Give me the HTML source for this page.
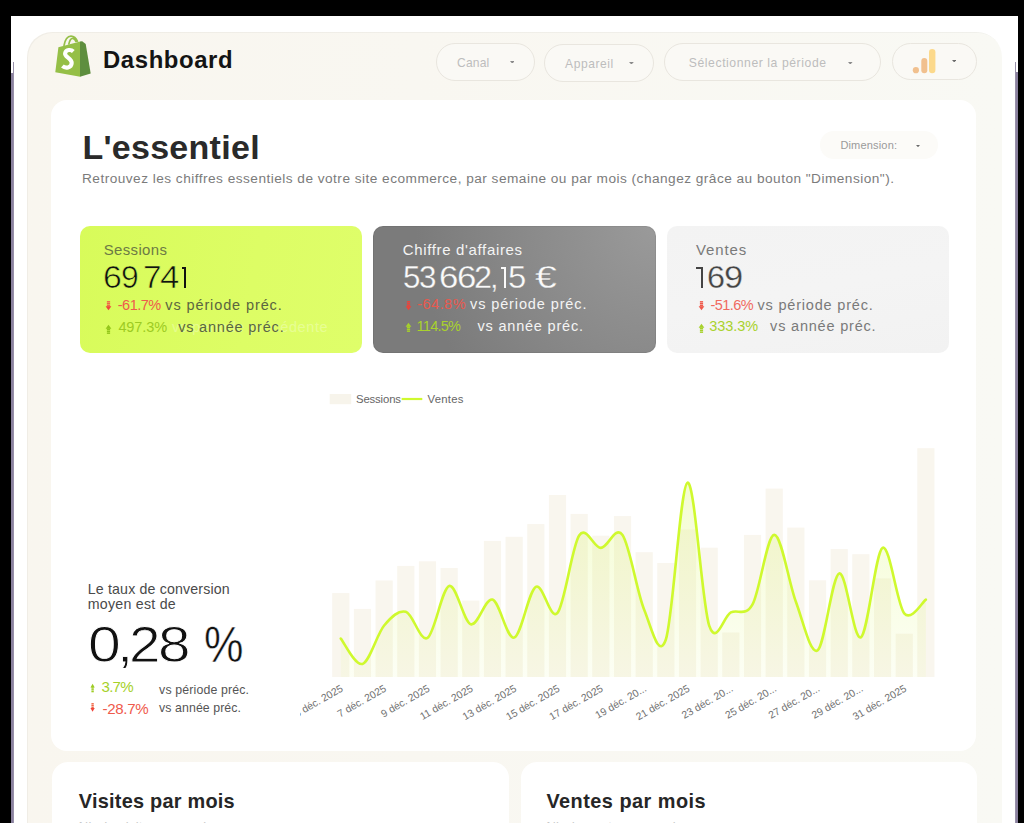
<!DOCTYPE html>
<html><head><meta charset="utf-8"><style>
*{box-sizing:border-box}
html,body{margin:0;padding:0}
body{width:1024px;height:823px;overflow:hidden;background:#000;position:relative;font-family:"Liberation Sans",sans-serif}
.abs{position:absolute}
.t{position:absolute;white-space:nowrap;line-height:1}
.pill{position:absolute;border:1px solid #e9e6df;border-radius:20px;background:#faf9f5}
</style></head><body>
<div class="abs" style="left:11px;top:16px;width:1007px;height:807px;background:#fff"></div>
<div class="abs" style="left:11px;top:73px;width:2px;height:750px;background:#8a819e"></div>
<div class="abs" style="left:13px;top:62px;width:1px;height:761px;background:#9890aa"></div>
<div class="abs" style="left:1015px;top:62px;width:1px;height:761px;background:#9890aa"></div><div class="abs" style="left:1016px;top:72px;width:2px;height:751px;background:#8a819e"></div>
<div class="abs" style="left:27px;top:32px;width:975px;height:820px;background:linear-gradient(90deg,#f9f6ef 0%,#f9f7f1 40%,#f9f9f4 100%);border-radius:25px;box-shadow:inset 1px 1px 0 rgba(0,0,0,0.035)"></div>
<div class="abs" style="left:51px;top:99.5px;width:925px;height:651px;background:#fff;border-radius:16px"></div>
<div class="abs" style="left:52px;top:762px;width:457px;height:120px;background:#fff;border-radius:16px"></div>
<div class="abs" style="left:520.5px;top:762px;width:456px;height:120px;background:#fff;border-radius:16px"></div>
<svg class="abs" style="left:52px;top:33px" width="42" height="46" viewBox="0 0 42 46">
<path d="M6.4,14.3 L28.2,8.6 L28.2,43.7 L3.3,39.2 Z" fill="#95bf47"/>
<path d="M28,8.6 L30.2,8.3 L33.7,10.9 L38.7,40.4 L28,43.7 Z" fill="#5e8e3e"/>
<path d="M11.9,13 C13,6.5 16,3.1 19,3.1 C22,3.1 24.2,5.2 25.7,8.8 M16.7,11.6 C17.5,7.4 19.1,5.1 20.9,5.3 C22.5,5.5 23.6,7.2 24.2,9" stroke="#95bf47" stroke-width="1.7" fill="none"/>
<path d="M21.3,18.4 C19.2,16.4 13.9,16.2 13.1,20.3 C12.4,24 19.9,25.1 19.7,29.9 C19.5,35.2 13.3,35.6 10.4,33" stroke="#fff" stroke-width="4.1" fill="none"/>
</svg>
<div class="t" style="left:103.00px;top:47.77px;font-size:23.90px;color:#141414;font-weight:700;letter-spacing:0.600px;">Dashboard</div>
<div class="pill" style="left:436px;top:43px;width:99px;height:38px"></div><div class="pill" style="left:544px;top:43.5px;width:110px;height:38.5px"></div><div class="pill" style="left:664px;top:43px;width:217px;height:38px"></div><div class="pill" style="left:891.5px;top:42.5px;width:85.5px;height:37px"></div><div class="t" style="left:457.10px;top:56.99px;font-size:12.06px;color:#bdbdbd;letter-spacing:0.180px;">Canal</div>
<div class="t" style="left:565.10px;top:57.79px;font-size:12.06px;color:#bdbdbd;letter-spacing:0.570px;">Appareil</div>
<div class="t" style="left:688.80px;top:57.07px;font-size:12.20px;color:#bdbdbd;letter-spacing:0.570px;">Sélectionner la période</div>
<svg class="abs" style="left:509.8px;top:60.7px" width="4.6" height="2.8" viewBox="0 0 4.6 2.8"><path d="M0,0 L4.6,0 L2.3,2.8 Z" fill="#8a8a8a"/></svg><svg class="abs" style="left:629px;top:61.5px" width="4.8" height="2.6" viewBox="0 0 4.8 2.6"><path d="M0,0 L4.8,0 L2.4,2.6 Z" fill="#8a8a8a"/></svg><svg class="abs" style="left:848.3px;top:61.6px" width="4.6" height="2.6" viewBox="0 0 4.6 2.6"><path d="M0,0 L4.6,0 L2.3,2.6 Z" fill="#8a8a8a"/></svg><svg class="abs" style="left:952px;top:60px" width="4.4" height="2.4" viewBox="0 0 4.4 2.4"><path d="M0,0 L4.4,0 L2.2,2.4 Z" fill="#6a6a6a"/></svg><svg class="abs" style="left:910px;top:48px" width="28" height="27" viewBox="0 0 28 27">
<circle cx="5.9" cy="22.2" r="3.1" fill="#f1c08e"/>
<rect x="11.3" y="10" width="6" height="15.2" rx="3" fill="#f1c08e"/>
<rect x="19" y="1.1" width="6.4" height="24.1" rx="3.2" fill="#fcd98b"/>
</svg><div class="t" style="left:82.40px;top:129.82px;font-size:34.00px;color:#2a2a2a;font-weight:700;letter-spacing:0.280px;">L'essentiel</div>
<div class="t" style="left:82.00px;top:171.64px;font-size:13.66px;color:#7b7b7b;letter-spacing:0.470px;">Retrouvez les chiffres essentiels de votre site ecommerce, par semaine ou par mois (changez grâce au bouton "Dimension").</div>
<div class="abs" style="left:820px;top:130.7px;width:118px;height:28.6px;background:#fcfbf8;border-radius:15px"></div><div class="t" style="left:840.40px;top:139.75px;font-size:11.05px;color:#9a9a9a;letter-spacing:0.150px;">Dimension:</div>
<svg class="abs" style="left:915.5px;top:144.5px" width="4" height="2.2" viewBox="0 0 4 2.2"><path d="M0,0 L4,0 L2.0,2.2 Z" fill="#6a6a6a"/></svg><div class="abs" style="left:80px;top:225.6px;width:282px;height:127.2px;border-radius:10px;background:linear-gradient(100deg,#d8fb5a 0%,#ddfd65 60%,#dffe6a 100%)"></div><div class="abs" style="left:373.2px;top:225.8px;width:282.6px;height:127px;border-radius:10px;background:radial-gradient(circle at 100% 0%,#9a9a9a 0px,#8b8b8b 120px,#7b7b7b 240px);box-shadow:inset 0 0 0 1px rgba(0,0,0,0.06)"></div><div class="abs" style="left:666.5px;top:225.8px;width:282.3px;height:127px;border-radius:10px;background:linear-gradient(170deg,#f3f3f3 0%,#f4f4f4 50%,#f2f2f2 100%)"></div><div class="t" style="left:172.00px;top:319.90px;font-size:14.53px;color:rgba(255,255,255,0.3);letter-spacing:0.600px;">vs période précédente</div>
<div class="t" style="left:103.80px;top:243.33px;font-size:14.97px;color:#6d7a45;letter-spacing:0.340px;">Sessions</div>
<div class="t" style="left:103.18px;top:262.38px;font-size:30.5px;color:#111;transform:scaleX(1.108);transform-origin:0 0;-webkit-text-stroke:0.6px #dafb5e;">6</div><div class="t" style="left:121.41px;top:262.38px;font-size:30.5px;color:#111;transform:scaleX(1.043);transform-origin:0 0;-webkit-text-stroke:0.6px #dafb5e;">9</div><div class="t" style="left:142.69px;top:262.38px;font-size:30.5px;color:#111;transform:scaleX(1.096);transform-origin:0 0;-webkit-text-stroke:0.6px #dafb5e;">7</div><div class="t" style="left:159.70px;top:262.38px;font-size:30.5px;color:#111;transform:scaleX(1.145);transform-origin:0 0;-webkit-text-stroke:0.6px #dafb5e;">4</div><div class="abs" style="left:184.20px;top:267.22px;width:1.70px;height:20.98px;background:#111"></div><div class="abs" style="left:181.50px;top:267.22px;width:3.55px;height:1.70px;background:#111"></div>
<svg class="abs" style="left:104.6px;top:300.6px" width="7" height="10" viewBox="0 0 7 10" preserveAspectRatio="none"><g fill="#f06848"><rect x="1.9" y="0.1" width="3.2" height="1.5"/><rect x="1.9" y="2" width="3.2" height="1.5"/><rect x="1.9" y="3.9" width="3.2" height="1.6"/></g><path d="M0.6,5.2 L6.4,5.2 L3.5,9.3 Z" fill="#f0443a"/></svg><div class="t" style="left:117.70px;top:297.50px;font-size:14.53px;color:#ef5a4c;letter-spacing:-0.480px;">-61.7%</div>
<div class="t" style="left:165.30px;top:297.50px;font-size:14.53px;color:#5b6640;letter-spacing:0.880px;">vs période préc.</div>
<svg class="abs" style="left:104.6px;top:324.0px" width="7" height="10" viewBox="0 0 7 10" preserveAspectRatio="none"><g fill="#93c61a"><rect x="1.9" y="8.4" width="3.2" height="1.5"/><rect x="1.9" y="6.5" width="3.2" height="1.5"/><rect x="1.9" y="4.5" width="3.2" height="1.6"/></g><path d="M0.6,4.8 L6.4,4.8 L3.5,0.7 Z" fill="#93c61a"/></svg><div class="t" style="left:118.40px;top:319.90px;font-size:14.53px;color:#9dcb23;letter-spacing:-0.090px;">497.3%</div>
<div class="t" style="left:178.20px;top:319.90px;font-size:14.53px;color:#5b6640;letter-spacing:0.790px;">vs année préc.</div>
<div class="t" style="left:402.80px;top:243.33px;font-size:14.97px;color:#f4f4f4;letter-spacing:0.660px;">Chiffre d'affaires</div>
<div class="t" style="left:402.65px;top:262.38px;font-size:30.5px;color:#fafafa;transform:scaleX(1.027);transform-origin:0 0;-webkit-text-stroke:0.3px #7c7c7c;">5</div><div class="t" style="left:419.10px;top:262.38px;font-size:30.5px;color:#fafafa;transform:scaleX(1.030);transform-origin:0 0;-webkit-text-stroke:0.3px #7c7c7c;">3</div><div class="t" style="left:439.13px;top:262.38px;font-size:30.5px;color:#fafafa;transform:scaleX(1.144);transform-origin:0 0;-webkit-text-stroke:0.3px #7c7c7c;">6</div><div class="t" style="left:456.83px;top:262.38px;font-size:30.5px;color:#fafafa;transform:scaleX(1.144);transform-origin:0 0;-webkit-text-stroke:0.3px #7c7c7c;">6</div><div class="t" style="left:474.17px;top:262.38px;font-size:30.5px;color:#fafafa;transform:scaleX(1.065);transform-origin:0 0;-webkit-text-stroke:0.3px #7c7c7c;">2</div><div class="t" style="left:490.25px;top:262.38px;font-size:30.5px;color:#fafafa;transform:scaleX(1.002);transform-origin:0 0;-webkit-text-stroke:0.3px #7c7c7c;">,</div><div class="abs" style="left:504.35px;top:267.22px;width:1.90px;height:20.98px;background:#fafafa"></div><div class="abs" style="left:500.50px;top:267.22px;width:4.80px;height:1.90px;background:#fafafa"></div><div class="t" style="left:508.08px;top:262.38px;font-size:30.5px;color:#fafafa;transform:scaleX(1.079);transform-origin:0 0;-webkit-text-stroke:0.3px #7c7c7c;">5</div><div class="t" style="left:534.89px;top:262.38px;font-size:30.5px;color:#fafafa;transform:scaleX(1.292);transform-origin:0 0;-webkit-text-stroke:0.3px #7c7c7c;">€</div>
<svg class="abs" style="left:404.5px;top:300.5px" width="7" height="10" viewBox="0 0 7 10" preserveAspectRatio="none"><g fill="#e8453c"><rect x="1.9" y="0.1" width="3.2" height="1.5"/><rect x="1.9" y="2" width="3.2" height="1.5"/><rect x="1.9" y="3.9" width="3.2" height="1.6"/></g><path d="M0.6,5.2 L6.4,5.2 L3.5,9.3 Z" fill="#e8453c"/></svg><div class="t" style="left:417.30px;top:297.20px;font-size:14.53px;color:#e8594e;letter-spacing:0.450px;">-64.8%</div>
<div class="t" style="left:470.00px;top:297.20px;font-size:14.53px;color:#f4f4f4;letter-spacing:0.880px;">vs période préc.</div>
<svg class="abs" style="left:404.5px;top:322px" width="7" height="10" viewBox="0 0 7 10" preserveAspectRatio="none"><g fill="#a6d12a"><rect x="1.9" y="8.4" width="3.2" height="1.5"/><rect x="1.9" y="6.5" width="3.2" height="1.5"/><rect x="1.9" y="4.5" width="3.2" height="1.6"/></g><path d="M0.6,4.8 L6.4,4.8 L3.5,0.7 Z" fill="#a6d12a"/></svg><div class="t" style="left:416.60px;top:318.70px;font-size:14.53px;color:#a9d22c;letter-spacing:-0.750px;">114.5%</div>
<div class="t" style="left:477.50px;top:318.70px;font-size:14.53px;color:#f4f4f4;letter-spacing:0.790px;">vs année préc.</div>
<div class="t" style="left:695.90px;top:243.33px;font-size:14.97px;color:#7a7a7a;letter-spacing:0.900px;">Ventes</div>
<div class="abs" style="left:700.80px;top:267.02px;width:2.40px;height:20.98px;background:#444"></div><div class="abs" style="left:695.90px;top:267.02px;width:6.10px;height:2.20px;background:#444"></div><div class="t" style="left:707.10px;top:262.18px;font-size:30.5px;color:#444;transform:scaleX(1.062);transform-origin:0 0;-webkit-text-stroke:0.3px #f2f2f2;">6</div><div class="t" style="left:724.09px;top:262.18px;font-size:30.5px;color:#444;transform:scaleX(1.129);transform-origin:0 0;-webkit-text-stroke:0.3px #f2f2f2;">9</div>
<svg class="abs" style="left:698px;top:300.8px" width="7" height="10" viewBox="0 0 7 10" preserveAspectRatio="none"><g fill="#ef5a4c"><rect x="1.9" y="0.1" width="3.2" height="1.5"/><rect x="1.9" y="2" width="3.2" height="1.5"/><rect x="1.9" y="3.9" width="3.2" height="1.6"/></g><path d="M0.6,5.2 L6.4,5.2 L3.5,9.3 Z" fill="#ef5a4c"/></svg><div class="t" style="left:710.60px;top:297.70px;font-size:14.53px;color:#f06a60;letter-spacing:-0.600px;">-51.6%</div>
<div class="t" style="left:757.50px;top:297.70px;font-size:14.53px;color:#7a7a7a;letter-spacing:0.800px;">vs période préc.</div>
<svg class="abs" style="left:698px;top:322.5px" width="7" height="10" viewBox="0 0 7 10" preserveAspectRatio="none"><g fill="#a6d12a"><rect x="1.9" y="8.4" width="3.2" height="1.5"/><rect x="1.9" y="6.5" width="3.2" height="1.5"/><rect x="1.9" y="4.5" width="3.2" height="1.6"/></g><path d="M0.6,4.8 L6.4,4.8 L3.5,0.7 Z" fill="#a6d12a"/></svg><div class="t" style="left:709.20px;top:319.30px;font-size:14.53px;color:#a9d22c;letter-spacing:-0.050px;">333.3%</div>
<div class="t" style="left:770.10px;top:319.30px;font-size:14.53px;color:#7a7a7a;letter-spacing:0.790px;">vs année préc.</div>
<div class="t" style="left:87.80px;top:581.58px;font-size:14.20px;color:#4a4a4a;letter-spacing:0.150px;">Le taux de conversion</div>
<div class="t" style="left:87.80px;top:597.18px;font-size:14.20px;color:#4a4a4a;letter-spacing:0.250px;">moyen est de</div>
<div class="t" style="left:88.30px;top:619.75px;font-size:50.5px;color:#111;transform:scaleX(1.168);transform-origin:0 0;-webkit-text-stroke:0.9px #fff;">0</div><div class="t" style="left:116.78px;top:619.75px;font-size:50.5px;color:#111;transform:scaleX(1.150);transform-origin:0 0;-webkit-text-stroke:0.9px #fff;">,</div><div class="t" style="left:128.85px;top:619.75px;font-size:50.5px;color:#111;transform:scaleX(1.121);transform-origin:0 0;-webkit-text-stroke:0.9px #fff;">2</div><div class="t" style="left:158.16px;top:619.75px;font-size:50.5px;color:#111;transform:scaleX(1.156);transform-origin:0 0;-webkit-text-stroke:0.9px #fff;">8</div>
<div class="t" style="left:204.22px;top:619.75px;font-size:50.5px;color:#111;transform:scaleX(0.879);transform-origin:0 0;-webkit-text-stroke:0.5px #fff;">%</div>
<svg class="abs" style="left:89.6px;top:683.2px" width="5.2" height="9.4" viewBox="0 0 7 10" preserveAspectRatio="none"><g fill="#9dcb23"><rect x="1.9" y="8.4" width="3.2" height="1.5"/><rect x="1.9" y="6.5" width="3.2" height="1.5"/><rect x="1.9" y="4.5" width="3.2" height="1.6"/></g><path d="M0.6,4.8 L6.4,4.8 L3.5,0.7 Z" fill="#9dcb23"/></svg><div class="t" style="left:101.50px;top:679.02px;font-size:15.10px;color:#a6d12a;letter-spacing:-0.750px;">3.7%</div>
<div class="t" style="left:159.10px;top:683.55px;font-size:12.35px;color:#555;letter-spacing:0.140px;">vs période préc.</div>
<svg class="abs" style="left:89.8px;top:703.2px" width="5.2" height="9.4" viewBox="0 0 7 10" preserveAspectRatio="none"><g fill="#f06848"><rect x="1.9" y="0.1" width="3.2" height="1.5"/><rect x="1.9" y="2" width="3.2" height="1.5"/><rect x="1.9" y="3.9" width="3.2" height="1.6"/></g><path d="M0.6,5.2 L6.4,5.2 L3.5,9.3 Z" fill="#f0443a"/></svg><div class="t" style="left:102.50px;top:700.92px;font-size:15.10px;color:#ef5a4c;letter-spacing:-0.320px;">-28.7%</div>
<div class="t" style="left:159.10px;top:702.25px;font-size:12.35px;color:#555;letter-spacing:0.070px;">vs année préc.</div>
<div class="t" style="left:356.00px;top:394.40px;font-size:11.34px;color:#666;letter-spacing:-0.140px;">Sessions</div>
<div class="t" style="left:427.50px;top:394.40px;font-size:11.34px;color:#666;letter-spacing:0.250px;">Ventes</div>
<svg class="abs" style="left:0;top:0" width="1024" height="823" viewBox="0 0 1024 823">
<defs>
<linearGradient id="ag" x1="0" y1="480" x2="0" y2="677" gradientUnits="userSpaceOnUse">
<stop offset="0" stop-color="#d4f54c" stop-opacity="0.26"/>
<stop offset="1" stop-color="#d4f54c" stop-opacity="0.06"/>
</linearGradient>
<clipPath id="lc"><rect x="300" y="670" width="700" height="60"/></clipPath>
</defs>
<g fill="#f9f6ee"><rect x="332.20" y="593.10" width="17.2" height="83.90"/><rect x="353.87" y="608.90" width="17.2" height="68.10"/><rect x="375.54" y="580.50" width="17.2" height="96.50"/><rect x="397.21" y="565.90" width="17.2" height="111.10"/><rect x="418.88" y="561.30" width="17.2" height="115.70"/><rect x="440.55" y="568.00" width="17.2" height="109.00"/><rect x="462.22" y="600.60" width="17.2" height="76.40"/><rect x="483.89" y="540.90" width="17.2" height="136.10"/><rect x="505.56" y="536.80" width="17.2" height="140.20"/><rect x="527.23" y="524.10" width="17.2" height="152.90"/><rect x="548.90" y="495.00" width="17.2" height="182.00"/><rect x="570.57" y="513.90" width="17.2" height="163.10"/><rect x="592.24" y="535.70" width="17.2" height="141.30"/><rect x="613.91" y="516.10" width="17.2" height="160.90"/><rect x="635.58" y="552.20" width="17.2" height="124.80"/><rect x="657.25" y="563.00" width="17.2" height="114.00"/><rect x="678.92" y="529.50" width="17.2" height="147.50"/><rect x="700.59" y="547.70" width="17.2" height="129.30"/><rect x="722.26" y="632.50" width="17.2" height="44.50"/><rect x="743.93" y="534.90" width="17.2" height="142.10"/><rect x="765.60" y="488.60" width="17.2" height="188.40"/><rect x="787.27" y="527.60" width="17.2" height="149.40"/><rect x="808.94" y="580.30" width="17.2" height="96.70"/><rect x="830.61" y="549.10" width="17.2" height="127.90"/><rect x="852.28" y="554.20" width="17.2" height="122.80"/><rect x="873.95" y="578.40" width="17.2" height="98.60"/><rect x="895.62" y="633.70" width="17.2" height="43.30"/><rect x="917.29" y="448.20" width="17.2" height="228.80"/></g>
<path d="M340.80,638.60 C344.41,642.82 355.25,666.08 362.47,663.90 C369.69,661.72 376.92,634.18 384.14,625.50 C391.36,616.82 398.59,609.73 405.81,611.80 C413.03,613.87 420.26,642.20 427.48,637.90 C434.70,633.60 441.93,588.27 449.15,586.00 C456.37,583.73 463.60,622.03 470.82,624.30 C478.04,626.57 485.27,597.38 492.49,599.60 C499.71,601.82 506.94,639.73 514.16,637.60 C521.38,635.47 528.61,590.92 535.83,586.80 C543.05,582.68 550.28,621.45 557.50,612.90 C564.72,604.35 571.95,546.33 579.17,535.50 C586.39,524.67 593.62,547.98 600.84,547.90 C608.06,547.82 615.29,524.70 622.51,535.00 C629.73,545.30 636.96,592.28 644.18,609.70 C651.40,627.12 658.63,660.67 665.85,639.50 C673.07,618.33 680.30,485.02 687.52,482.70 C694.74,480.38 701.97,603.98 709.19,625.60 C716.41,647.22 723.64,615.93 730.86,612.40 C738.08,608.87 745.31,617.32 752.53,604.40 C759.75,591.48 766.98,535.35 774.20,534.90 C781.42,534.45 788.65,582.45 795.87,601.70 C803.09,620.95 810.32,655.12 817.54,650.40 C824.76,645.68 831.99,575.58 839.21,573.40 C846.43,571.22 853.66,641.57 860.88,637.30 C868.10,633.03 875.33,551.80 882.55,547.80 C889.77,543.80 897.00,604.67 904.22,613.30 C911.44,621.93 922.28,601.88 925.89,599.60 L925.89,677.0 L340.80,677.0 Z" fill="url(#ag)"/>
<path d="M340.80,638.60 C344.41,642.82 355.25,666.08 362.47,663.90 C369.69,661.72 376.92,634.18 384.14,625.50 C391.36,616.82 398.59,609.73 405.81,611.80 C413.03,613.87 420.26,642.20 427.48,637.90 C434.70,633.60 441.93,588.27 449.15,586.00 C456.37,583.73 463.60,622.03 470.82,624.30 C478.04,626.57 485.27,597.38 492.49,599.60 C499.71,601.82 506.94,639.73 514.16,637.60 C521.38,635.47 528.61,590.92 535.83,586.80 C543.05,582.68 550.28,621.45 557.50,612.90 C564.72,604.35 571.95,546.33 579.17,535.50 C586.39,524.67 593.62,547.98 600.84,547.90 C608.06,547.82 615.29,524.70 622.51,535.00 C629.73,545.30 636.96,592.28 644.18,609.70 C651.40,627.12 658.63,660.67 665.85,639.50 C673.07,618.33 680.30,485.02 687.52,482.70 C694.74,480.38 701.97,603.98 709.19,625.60 C716.41,647.22 723.64,615.93 730.86,612.40 C738.08,608.87 745.31,617.32 752.53,604.40 C759.75,591.48 766.98,535.35 774.20,534.90 C781.42,534.45 788.65,582.45 795.87,601.70 C803.09,620.95 810.32,655.12 817.54,650.40 C824.76,645.68 831.99,575.58 839.21,573.40 C846.43,571.22 853.66,641.57 860.88,637.30 C868.10,633.03 875.33,551.80 882.55,547.80 C889.77,543.80 897.00,604.67 904.22,613.30 C911.44,621.93 922.28,601.88 925.89,599.60" fill="none" stroke="#cff92e" stroke-width="2.6" stroke-linecap="round" stroke-linejoin="round"/>
<g clip-path="url(#lc)" font-family="Liberation Sans" font-size="10.4" fill="#717171" text-anchor="end"><text x="343.80" y="690.50" transform="rotate(-30 343.80 690.50)">5 déc. 2025</text><text x="387.14" y="690.50" transform="rotate(-30 387.14 690.50)">7 déc. 2025</text><text x="430.48" y="690.50" transform="rotate(-30 430.48 690.50)">9 déc. 2025</text><text x="473.82" y="690.50" transform="rotate(-30 473.82 690.50)">11 déc. 2025</text><text x="517.16" y="690.50" transform="rotate(-30 517.16 690.50)">13 déc. 2025</text><text x="560.50" y="690.50" transform="rotate(-30 560.50 690.50)">15 déc. 2025</text><text x="603.84" y="690.50" transform="rotate(-30 603.84 690.50)">17 déc. 2025</text><text x="647.18" y="690.50" transform="rotate(-30 647.18 690.50)">19 déc. 20...</text><text x="690.52" y="690.50" transform="rotate(-30 690.52 690.50)">21 déc. 2025</text><text x="733.86" y="690.50" transform="rotate(-30 733.86 690.50)">23 déc. 20...</text><text x="777.20" y="690.50" transform="rotate(-30 777.20 690.50)">25 déc. 20...</text><text x="820.54" y="690.50" transform="rotate(-30 820.54 690.50)">27 déc. 20...</text><text x="863.88" y="690.50" transform="rotate(-30 863.88 690.50)">29 déc. 20...</text><text x="907.22" y="690.50" transform="rotate(-30 907.22 690.50)">31 déc. 2025</text></g>
<rect x="329.7" y="394" width="21.5" height="10.2" fill="#f7f4eb"/>
<line x1="401.6" y1="399" x2="422.3" y2="399" stroke="#cff92e" stroke-width="2.2"/>
</svg><div class="t" style="left:78.80px;top:791.75px;font-size:19.90px;color:#262626;font-weight:700;letter-spacing:0.240px;">Visites par mois</div>
<div class="t" style="left:546.40px;top:791.75px;font-size:19.90px;color:#262626;font-weight:700;letter-spacing:0.480px;">Ventes par mois</div>
<div class="t" style="left:78.80px;top:819.80px;font-size:13.00px;color:#c8c8c8;letter-spacing:0.300px;">Nb de visites par mois</div>
<div class="t" style="left:546.40px;top:819.80px;font-size:13.00px;color:#c8c8c8;letter-spacing:0.300px;">Nb de ventes par mois</div>
</body></html>
